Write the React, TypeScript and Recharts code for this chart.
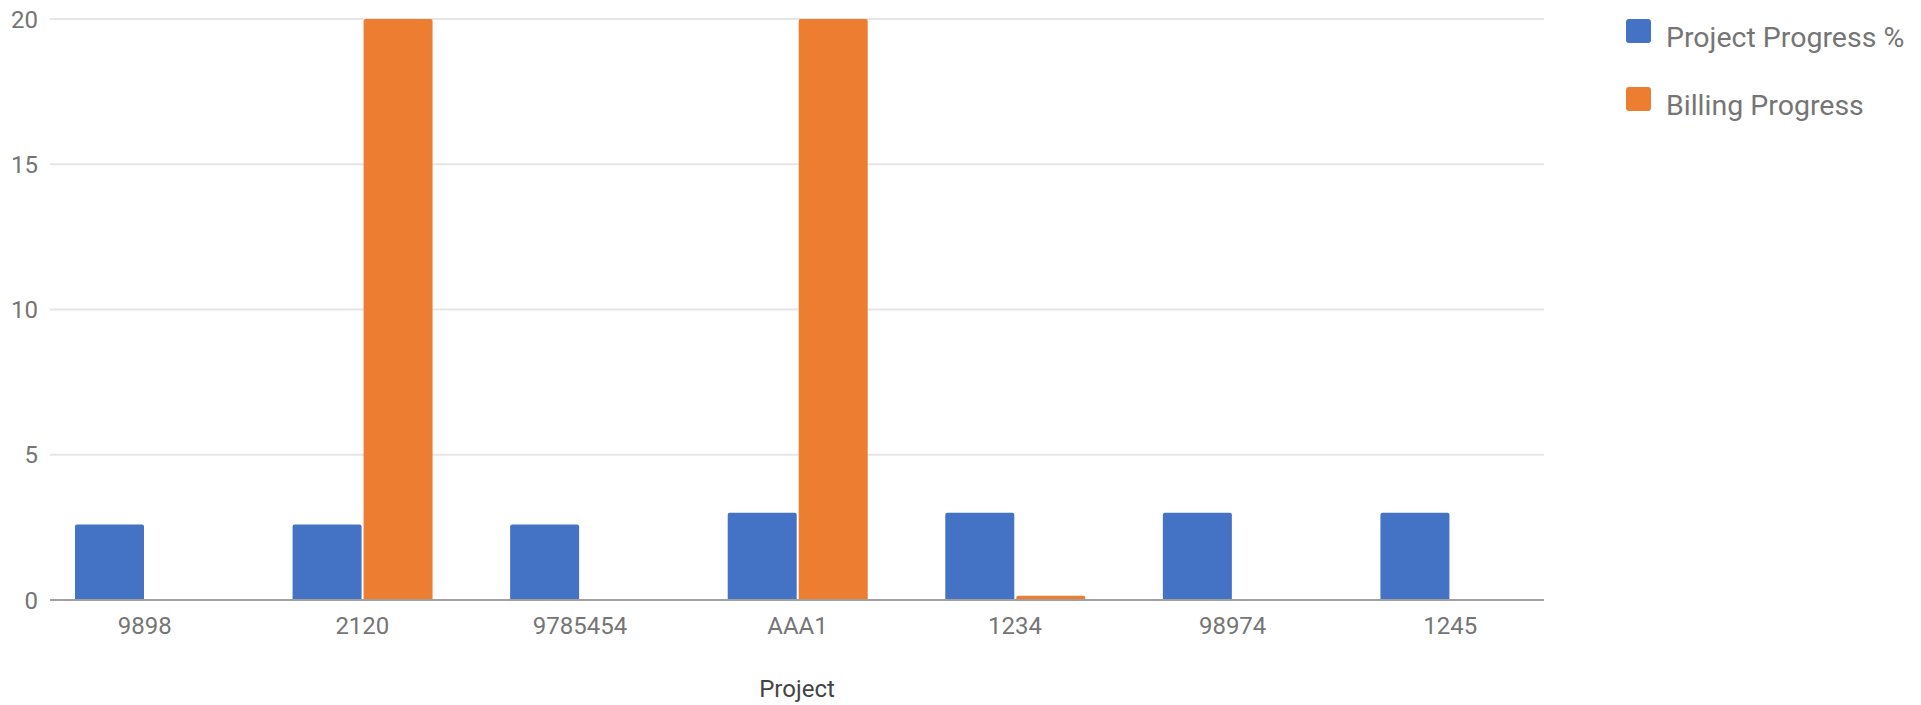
import React from 'react';
import { BarChart, Bar, XAxis, YAxis, CartesianGrid, Legend } from 'recharts';

const categories = ['9898', '2120', '9785454', 'AAA1', '1234', '98974', '1245'];
const projectProgress = [2.6, 2.6, 2.6, 3, 3, 3, 3];
const billingProgress = [0, 20, 0, 20, 0.15, 0, 0];
const yTicks = [0, 5, 10, 15, 20];
const seriesNames = ['Project Progress %', 'Billing Progress'];
const seriesColors = ['#4472C4', '#ED7D31'];

const data = categories.map((c, i) => ({
  name: c,
  project: projectProgress[i],
  billing: billingProgress[i],
}));

const FONT = 'Roboto, "Noto Sans", sans-serif';

const LegendContent = (props: any) => {
  const payload = [...(props.payload || [])].sort(
    (a: any, b: any) => seriesNames.indexOf(a.value) - seriesNames.indexOf(b.value)
  );
  return (
    <svg width={295} height={140} style={{ display: 'block' }}>
      {payload.map((p: any, i: number) => (
        <g key={i}>
          <rect x={0} y={i * 68} width={25} height={24} rx={3} ry={3} fill={p.color} />
          <text x={40} y={i * 68 + 28} fontFamily={FONT} fontSize={28.5} fill="#757575">
            {p.value}
          </text>
        </g>
      ))}
    </svg>
  );
};

export default function App() {
  return (
    <div style={{ position: 'absolute', left: 0, top: 0, width: 1921, height: 705, background: '#fff' }}>
      <BarChart
        width={1921}
        height={705}
        data={data}
        margin={{ top: 19, right: 377, left: 0, bottom: 0 }}
        barCategoryGap={39}
        barGap={2}
      >
        <CartesianGrid vertical={false} stroke="#e6e6e6" strokeWidth={2} />
        <XAxis
          dataKey="name"
          height={105}
          padding={{ left: -14, right: -15 }}
          tickLine={false}
          tickSize={0}
          tickMargin={17}
          axisLine={{ stroke: '#a0a0a0', strokeWidth: 2 }}
          tick={{ fill: '#757575', fontSize: 24, fontFamily: FONT }}
          interval={0}
          label={{ value: 'Project', position: 'insideBottom', offset: 8, fill: '#444444', fontSize: 24, fontFamily: FONT }}
        />
        <YAxis
          width={50}
          domain={[0, 20]}
          ticks={yTicks}
          axisLine={false}
          tickLine={false}
          tickSize={0}
          tickMargin={12}
          tick={{ fill: '#757575', fontSize: 24, fontFamily: FONT }}
        />
        <Legend
          layout="vertical"
          align="center"
          verticalAlign="middle"
          wrapperStyle={{ left: 1626, top: 19, width: 295, height: 140 }}
          content={<LegendContent />}
        />
        <Bar dataKey="project" name={seriesNames[0]} fill={seriesColors[0]} radius={[2, 2, 0, 0]} isAnimationActive={false} />
        <Bar dataKey="billing" name={seriesNames[1]} fill={seriesColors[1]} radius={[2, 2, 0, 0]} isAnimationActive={false} />
      </BarChart>
    </div>
  );
}
